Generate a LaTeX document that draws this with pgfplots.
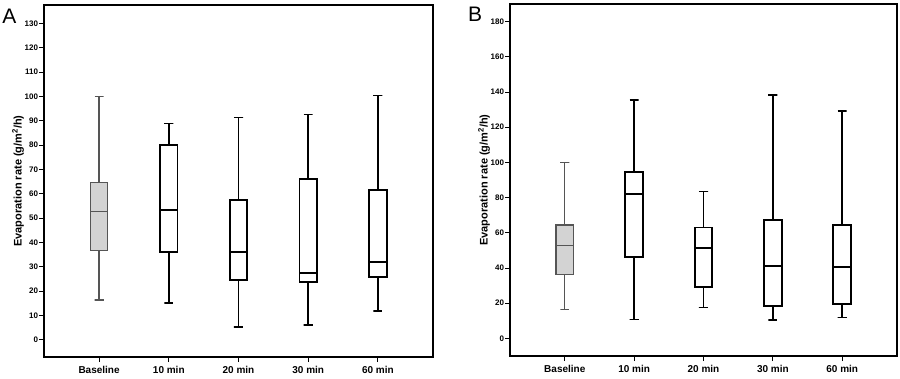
\documentclass[border=0pt]{standalone}
\usepackage{fontspec}
\setmainfont{Liberation Sans}
\usepackage{pgfplots}
\pgfplotsset{compat=1.18}
\definecolor{basefill}{HTML}{D3D3D3}
\definecolor{basedraw}{HTML}{555555}
\pgfplotsset{
  panel/.style={
    scale only axis,
    height=352pt,
    xmin=-0.79, xmax=4.79,
    xtick={0,1,2,3,4},
    xticklabels={Baseline,10 min,20 min,30 min,60 min},
    tick pos=left,
    tick align=outside,
    major tick length=5pt,
    every tick/.style={black, line width=0.9pt},
    axis line style={line width=1.3pt, black},
    /pgf/number format/assume math mode=true,
    yticklabel style={font=\fontsize{8}{9}\selectfont\bfseries, inner sep=0.8pt},
    xticklabel style={font=\fontsize{10}{11}\selectfont\bfseries, inner sep=2pt, yshift=-2.5pt},
    ylabel={Evaporation rate (g/m\textsuperscript{2}/h)},
    every axis y label/.style={at={(axis description cs:0,0.5)}, xshift=-26pt, rotate=90, anchor=center, font=\fontsize{11}{12}\selectfont\bfseries},
  },
  basewh/.style={draw=basedraw, line width=1.3pt, mark=none, solid},
  basebox/.style={draw=basedraw, fill=basefill, line width=1.3pt, mark=none, solid, line join=miter},
  basemed/.style={draw=basedraw, line width=1.3pt, mark=none, solid},
  blkwh/.style={draw=black, line width=1.7pt, mark=none, solid},
  blkbox/.style={draw=black, fill=white, line width=1.9pt, mark=none, solid, line join=miter},
  blkmed/.style={draw=black, line width=2pt, mark=none, solid},
}
\begin{document}
\begin{tikzpicture}
\useasboundingbox (0,0) rectangle (900pt,378pt);
% ---------------- Panel A ----------------
\begin{axis}[panel, at={(44pt,21pt)}, anchor=south west, width=389pt,
  ymin=-7, ymax=137.5, ytick={0,10,...,130}]
% Baseline: 16.4 / 36.7 / 52.7 / 64.7 / 100
\addplot[basewh] coordinates {(-0.065,100) (0.065,100) (0,100) (0,16.4) (-0.065,16.4) (0.065,16.4)};
\addplot[basebox] coordinates {(-0.125,36.7) (0.125,36.7) (0.125,64.7) (-0.125,64.7)} -- cycle;
\addplot[basemed] coordinates {(-0.125,52.7) (0.125,52.7)};
% 10 min: 15.2 / 36.1 / 53.2 / 79.9 / 88.8
\addplot[blkwh] coordinates {(0.935,88.8) (1.065,88.8) (1,88.8) (1,15.2) (0.935,15.2) (1.065,15.2)};
\addplot[blkbox] coordinates {(0.875,36.1) (1.125,36.1) (1.125,79.9) (0.875,79.9)} -- cycle;
\addplot[blkmed] coordinates {(0.875,53.2) (1.125,53.2)};
% 20 min: 5.2 / 24.5 / 36.3 / 57.5 / 91.3
\addplot[blkwh] coordinates {(1.935,91.3) (2.065,91.3) (2,91.3) (2,5.2) (1.935,5.2) (2.065,5.2)};
\addplot[blkbox] coordinates {(1.875,24.5) (2.125,24.5) (2.125,57.5) (1.875,57.5)} -- cycle;
\addplot[blkmed] coordinates {(1.875,36.3) (2.125,36.3)};
% 30 min: 6.2 / 23.9 / 27.6 / 66.2 / 92.6
\addplot[blkwh] coordinates {(2.935,92.6) (3.065,92.6) (3,92.6) (3,6.2) (2.935,6.2) (3.065,6.2)};
\addplot[blkbox] coordinates {(2.875,23.9) (3.125,23.9) (3.125,66.2) (2.875,66.2)} -- cycle;
\addplot[blkmed] coordinates {(2.875,27.6) (3.125,27.6)};
% 60 min: 12.0 / 25.7 / 32.2 / 61.7 / 100.3
\addplot[blkwh] coordinates {(3.935,100.3) (4.065,100.3) (4,100.3) (4,12.0) (3.935,12.0) (4.065,12.0)};
\addplot[blkbox] coordinates {(3.875,25.7) (4.125,25.7) (4.125,61.7) (3.875,61.7)} -- cycle;
\addplot[blkmed] coordinates {(3.875,32.2) (4.125,32.2)};
\end{axis}
% ---------------- Panel B ----------------
\begin{axis}[panel, at={(510pt,22pt)}, anchor=south west, width=387pt,
  ymin=-10, ymax=190, ytick={0,20,...,180}]
% Baseline: 16.3 / 36.5 / 52.8 / 64.5 / 100
\addplot[basewh] coordinates {(-0.065,100) (0.065,100) (0,100) (0,16.3) (-0.065,16.3) (0.065,16.3)};
\addplot[basebox] coordinates {(-0.128,36.5) (0.128,36.5) (0.128,64.5) (-0.128,64.5)} -- cycle;
\addplot[basemed] coordinates {(-0.128,52.8) (0.128,52.8)};
% 10 min: 10.8 / 46.2 / 82.3 / 94.8 / 135.5
\addplot[blkwh] coordinates {(0.935,135.5) (1.065,135.5) (1,135.5) (1,10.8) (0.935,10.8) (1.065,10.8)};
\addplot[blkbox] coordinates {(0.872,46.2) (1.128,46.2) (1.128,94.8) (0.872,94.8)} -- cycle;
\addplot[blkmed] coordinates {(0.872,82.3) (1.128,82.3)};
% 20 min: 17.6 / 29.2 / 51.3 / 63.0 / 83.5
\addplot[blkwh] coordinates {(1.935,83.5) (2.065,83.5) (2,83.5) (2,17.6) (1.935,17.6) (2.065,17.6)};
\addplot[blkbox] coordinates {(1.872,29.2) (2.128,29.2) (2.128,63.0) (1.872,63.0)} -- cycle;
\addplot[blkmed] coordinates {(1.872,51.3) (2.128,51.3)};
% 30 min: 10.4 / 18.4 / 41.3 / 67.2 / 138.2
\addplot[blkwh] coordinates {(2.935,138.2) (3.065,138.2) (3,138.2) (3,10.4) (2.935,10.4) (3.065,10.4)};
\addplot[blkbox] coordinates {(2.872,18.4) (3.128,18.4) (3.128,67.2) (2.872,67.2)} -- cycle;
\addplot[blkmed] coordinates {(2.872,41.3) (3.128,41.3)};
% 60 min: 11.9 / 19.3 / 40.3 / 64.4 / 129.3
\addplot[blkwh] coordinates {(3.935,129.3) (4.065,129.3) (4,129.3) (4,11.9) (3.935,11.9) (4.065,11.9)};
\addplot[blkbox] coordinates {(3.872,19.3) (4.128,19.3) (4.128,64.4) (3.872,64.4)} -- cycle;
\addplot[blkmed] coordinates {(3.872,40.3) (4.128,40.3)};
\end{axis}
\node[font=\fontsize{21}{22}\selectfont] at (9.5pt,362pt) {A};
\node[font=\fontsize{21}{22}\selectfont] at (475pt,364pt) {B};
\end{tikzpicture}
\end{document}
